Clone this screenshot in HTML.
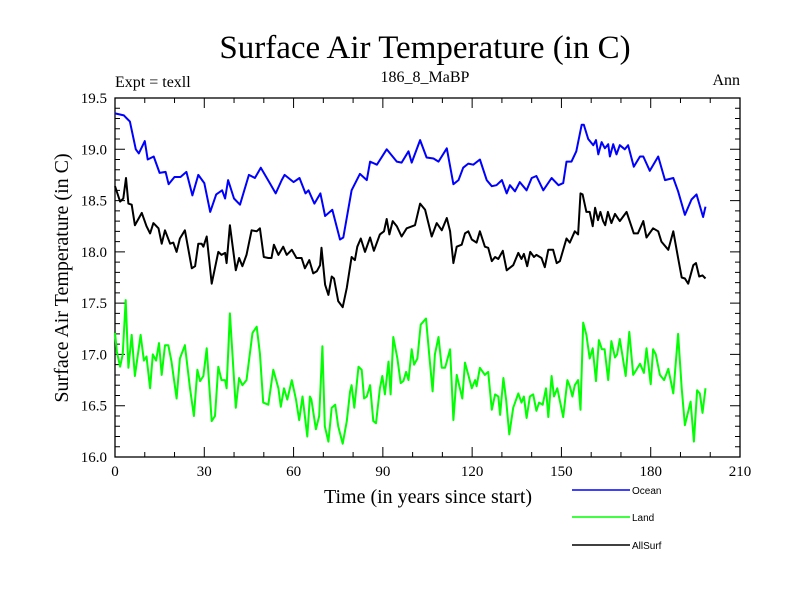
<!DOCTYPE html>
<html><head><meta charset="utf-8"><style>
body{margin:0;background:#fff;width:800px;height:600px;overflow:hidden}
svg text{font-family:"Liberation Serif",serif;fill:#000}
</style></head><body>
<svg id="chart" width="800" height="600" xmlns="http://www.w3.org/2000/svg">
<text x="425" y="58" font-size="33" text-anchor="middle">Surface Air Temperature (in C)</text>
<text x="115" y="87" font-size="16">Expt = texll</text>
<text x="425" y="82" font-size="16" text-anchor="middle">186_8_MaBP</text>
<text x="740" y="85" font-size="16" text-anchor="end">Ann</text>
<text transform="translate(68,278) rotate(-90)" font-size="20" text-anchor="middle">Surface Air Temperature (in C)</text>
<text x="428" y="503" font-size="20" text-anchor="middle">Time (in years since start)</text>
<g id="axes"></g>
<g id="series"></g>
<g id="legend"></g>
</svg>
<script>
const xTicks=[0,30,60,90,120,150,180,210];
const yTicks=[16.0,16.5,17.0,17.5,18.0,18.5,19.0,19.5];
const seriesNames=["Ocean","Land","AllSurf"];
const oceanYears=[0,3,5,7,8,10,11,13,15,17,18,20,22,24,26,28,30,32,34,36,37,38,40,42,45,47,49,52,54,56,57,60,62,64,65,67,69,70.6,73,75.6,76.7,79.5,82.3,84.6,85.7,88,91.3,94.7,96.3,98.6,99.7,102.5,104.7,107,108.7,111.5,113.7,115.4,117,118.7,120.4,122.6,124.9,126.6,128.2,130,131.6,132.7,134.4,136,138.3,140,141.6,143.9,146.7,149,150.6,151.7,153.4,155,156.8,157.5,159,160.7,161.6,162.4,163.5,164.6,165.7,166.3,167.4,168.5,169.6,171.3,172.4,174.3,176.4,177.5,179.7,182.5,184.8,187.6,189.2,191.5,193.7,195.4,197.6,198.4];
const oceanVals=[19.35,19.33,19.27,19.0,18.96,19.08,18.9,18.93,18.77,18.78,18.66,18.73,18.73,18.78,18.55,18.75,18.67,18.39,18.56,18.6,18.52,18.7,18.52,18.46,18.75,18.72,18.82,18.67,18.57,18.7,18.75,18.68,18.72,18.57,18.6,18.47,18.57,18.35,18.41,18.12,18.14,18.6,18.76,18.7,18.88,18.85,19.0,18.88,18.87,18.98,18.87,19.09,18.92,18.91,18.88,19.01,18.66,18.7,18.82,18.86,18.85,18.9,18.7,18.64,18.65,18.7,18.57,18.65,18.59,18.68,18.6,18.72,18.74,18.6,18.72,18.65,18.67,18.88,18.88,18.98,19.24,19.24,19.1,19.04,19.09,18.95,19.07,19.01,19.05,18.93,19.05,18.95,19.04,19.0,19.04,18.83,18.93,18.93,18.79,18.93,18.7,18.72,18.59,18.36,18.51,18.56,18.34,18.44];
const allYears=[0,1.7,2.8,3.7,4.5,5.6,6.7,9,10.6,11.8,12.9,14.6,15.7,16.8,18.5,19.6,20.7,21.8,23.5,25.8,26.9,28,29.1,29.7,30.8,32.5,34.7,35.8,37,37.5,38.6,40.6,41.7,42.8,44.2,45.9,47.6,48.7,50,51.5,52.6,53.4,54.9,56.5,57.7,59.4,61,62.7,63.8,65.3,66.6,67.8,68.9,69.4,70.6,71.7,72.8,73.6,75,76.5,77.9,79.5,80.6,81.4,82.6,84,85.7,87,89,90.4,91.3,92.2,93.3,94.7,96.3,98,100.8,102.5,104.2,106.4,108.1,109.8,111.5,112.6,113.7,114.8,116.5,117.6,118.7,119.9,121.5,122.6,124.3,125.4,126.6,127.7,128.8,130.3,131.6,133.8,135.5,136.6,137.4,138.5,139.5,140.8,141.6,143.3,144.4,145.6,147.2,148.4,149.5,151.7,152.8,154.5,155.6,156.4,157.1,158.4,159.5,160.5,161.3,162.3,163.1,164,164.7,165.6,166.8,168,169.6,171.9,174.3,175.7,177.5,178.6,180.8,182.5,183.6,185.9,187.6,189.2,190.4,191.5,192.6,194.3,195.2,196.3,197.4,198.4];
const allVals=[18.64,18.49,18.52,18.72,18.47,18.46,18.26,18.38,18.25,18.18,18.28,18.23,18.08,18.21,18.08,18.09,18.0,18.13,18.21,17.84,17.86,18.08,18.08,18.05,18.15,17.69,18.0,17.97,17.99,17.89,18.26,17.82,17.94,17.86,17.97,18.21,18.2,18.23,17.95,17.94,17.94,18.07,17.97,18.05,17.97,18.02,17.94,17.94,17.84,17.92,17.79,17.81,17.87,18.04,17.68,17.58,17.76,17.74,17.52,17.46,17.65,17.95,17.92,18.05,18.13,18.0,18.14,18.01,18.17,18.2,18.32,18.17,18.3,18.25,18.15,18.23,18.26,18.47,18.41,18.15,18.28,18.21,18.33,18.2,17.89,18.05,18.07,18.18,18.2,18.12,18.09,18.2,18.05,18.04,17.91,17.95,17.93,18.01,17.82,17.87,17.99,17.93,17.98,17.86,18.0,17.95,17.97,17.94,17.85,18.02,18.02,17.89,17.91,18.13,18.09,18.2,18.17,18.57,18.56,18.39,18.39,18.25,18.43,18.31,18.39,18.3,18.26,18.39,18.28,18.37,18.3,18.39,18.18,18.18,18.3,18.14,18.23,18.2,18.1,18.02,18.2,17.94,17.75,17.74,17.69,17.87,17.89,17.76,17.77,17.74];
const landYears=[0,0.6,1.7,2.6,3.6,4.5,5.6,6.7,8.6,9.7,10.6,11.8,12.7,13.8,14.8,15.7,16.8,17.9,19,20.7,21.8,23.5,25.2,26.5,27.7,28.6,29.7,30.8,32.5,33.6,34.7,35.8,37,37.5,38.6,40.6,41.7,42.8,44.2,46.2,47.6,48.7,49.8,51.5,53.2,54.9,55.7,56.8,57.9,59.4,60.8,61.9,63,64.6,65.5,66,67.5,68.6,69.7,70.5,71.7,72.8,74,75,76.5,77.9,79,79.5,80.4,81.8,82.9,83.7,84.6,85.7,86.8,87.7,89,89.8,90.7,91.9,92.6,93.5,94.9,96,96.9,97.8,98.6,99.7,100.5,101.6,102.7,104.5,105.6,106.7,107.5,108.7,109.8,110.9,112.6,113.7,114.8,115.9,116.7,117.6,118.7,119.9,121,121.5,122.6,124.3,125.4,126.6,127.7,128.8,129.4,130.5,131.4,132.5,133.8,135.5,136.6,137.4,138.3,139.4,140.5,141.6,142.5,143.7,144.8,145.6,146.7,147.5,148.6,150.6,152,152.8,153.7,154.5,155.6,156.4,157.3,158.4,159.5,160.5,161.6,162.6,163.6,164.5,165.7,166.8,168,168.7,169.6,171.6,172.8,174.1,175.2,176.4,177.7,178.6,180,180.8,181.7,183.1,184.5,185.9,187.6,189.2,190.4,191.5,193.4,194.5,195.6,196.5,197.4,198.4];
const landVals=[17.21,17.03,16.88,17.0,17.53,16.87,17.19,16.79,17.19,16.94,16.98,16.67,17.0,16.94,17.11,16.8,17.09,17.09,16.93,16.57,16.96,17.09,16.67,16.4,16.85,16.74,16.79,17.06,16.35,16.4,16.88,16.75,16.75,16.67,17.4,16.48,16.77,16.7,16.75,17.21,17.27,17.01,16.53,16.51,16.85,16.67,16.49,16.67,16.56,16.75,16.56,16.36,16.59,16.2,16.59,16.56,16.27,16.4,17.08,16.3,16.15,16.48,16.51,16.3,16.13,16.35,16.64,16.7,16.48,16.88,16.85,16.57,16.59,16.7,16.35,16.33,16.67,16.79,16.61,16.93,16.61,17.17,16.96,16.72,16.74,16.83,16.75,17.05,16.9,16.96,17.29,17.35,16.99,16.64,17.0,17.17,16.87,16.87,17.05,16.36,16.8,16.67,16.57,16.92,16.8,16.67,16.75,16.69,16.87,16.8,16.83,16.46,16.61,16.59,16.41,16.77,16.56,16.22,16.48,16.62,16.53,16.59,16.38,16.59,16.61,16.45,16.53,16.51,16.67,16.39,16.79,16.59,16.67,16.39,16.75,16.69,16.59,16.7,16.75,16.46,17.31,17.19,16.96,17.06,16.74,17.14,17.05,17.05,16.75,17.13,16.97,17.0,17.15,16.79,17.22,16.8,16.85,16.91,16.82,17.06,16.71,17.05,17.0,16.8,16.75,16.86,16.62,17.2,16.67,16.31,16.54,16.15,16.65,16.62,16.43,16.67,16.35];

const X0=115,X1=740,Y0=457,Y1=98;
const xMin=0,xMax=210,yMin=16.0,yMax=19.5;
function sx(v){return X0+(v-xMin)/(xMax-xMin)*(X1-X0);}
function sy(v){return Y0-(v-yMin)/(yMax-yMin)*(Y0-Y1);}
const NS="http://www.w3.org/2000/svg";
function mk(tag,attrs,parent){const e=document.createElementNS(NS,tag);for(const k in attrs)e.setAttribute(k,attrs[k]);parent.appendChild(e);return e;}
const axes=document.getElementById('axes');
const frame=mk('rect',{x:X0,y:Y1,width:X1-X0,height:Y0-Y1,fill:'none',stroke:'#000','stroke-width':1.3},axes);


let d='';
for(let v=yMin;v<=yMax+1e-6;v+=0.1){const y=sy(v);const major=Math.abs(v*2-Math.round(v*2))<1e-6;const L=major?10:5;d+=`M${X0},${y}h${L}M${X1},${y}h${-L}`;}
for(let v=xMin;v<=xMax;v+=10){const x=sx(v);const major=v%30===0;const L=major?10:5;d+=`M${x},${Y0}v${-L}M${x},${Y1}v${L}`;}
const tk=mk('path',{d:d,stroke:'#000','stroke-width':1,fill:'none'},axes);


yTicks.forEach(v=>{const t=mk('text',{x:X0-8,y:sy(v)+5,'font-size':15,'text-anchor':'end'},axes);t.textContent=v.toFixed(1);

});
xTicks.forEach(v=>{const t=mk('text',{x:sx(v),y:Y0+19,'font-size':15,'text-anchor':'middle'},axes);t.textContent=String(v);

});
const sg=document.getElementById('series');
function line(xs,vs,color,name){const pts=xs.map((x,i)=>sx(x).toFixed(1)+','+sy(vs[i]).toFixed(1)).join(' ');
const p=mk('polyline',{points:pts,fill:'none',stroke:color,'stroke-width':2,'stroke-linejoin':'round'},sg);

}
line(oceanYears,oceanVals,'#0000ff','ocean-line');
line(landYears,landVals,'#00ff00','land-line');
line(allYears,allVals,'#000000','allsurf-line');
const lg=document.getElementById('legend');
const lcol=['#0000ff','#00ff00','#000000'];const ly=[490,517,545];
seriesNames.forEach((n,i)=>{const l=mk('line',{x1:572,x2:630,y1:ly[i],y2:ly[i],stroke:lcol[i],'stroke-width':1.5},lg);


const t=mk('text',{x:632,y:ly[i]+4,'font-size':10,style:'font-family:"Liberation Sans",sans-serif'},lg);t.textContent=n;

});
</script>
</body></html>
